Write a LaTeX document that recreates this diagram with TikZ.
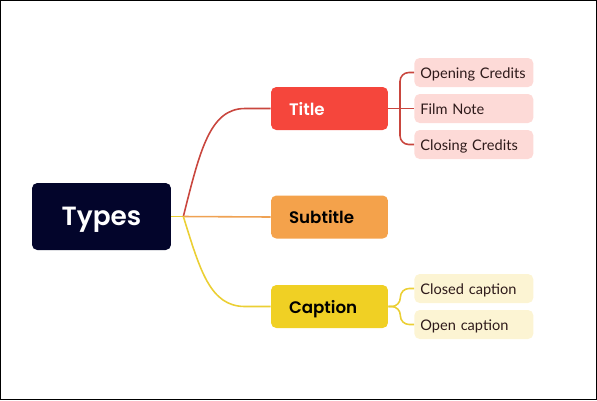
\documentclass[tikz,border=0pt]{standalone}
\usepackage{fontspec}
\setmainfont{Lato}
\newfontfamily\headfont{Poppins}[BoldFont={Poppins SemiBold}]
\usepackage{tikz}
\usetikzlibrary{calc}
\definecolor{navy}{HTML}{03052B}
\definecolor{titlered}{HTML}{F5463C}
\definecolor{suborange}{HTML}{F4A24B}
\definecolor{capyellow}{HTML}{F0D024}
\definecolor{leafpink}{HTML}{FDDAD7}
\definecolor{leafyellow}{HTML}{FCF4D3}
\definecolor{linkred}{HTML}{C9463E}
\definecolor{linkorange}{HTML}{EFA253}
\definecolor{linkyellow}{HTML}{EBCF34}
\definecolor{leaftext}{HTML}{2E1A1A}

\begin{document}
\begin{tikzpicture}[x=0.02cm,y=-0.02cm,
    root/.style={fill=navy,text=white,rounded corners=3pt,minimum width=2.78cm,minimum height=1.34cm,text depth=0pt,font=\headfont\fontsize{15}{18}\selectfont\bfseries},
    branch/.style={rounded corners=3pt,text width=1.62cm,inner xsep=0.36cm,minimum height=0.86cm,text depth=0pt,align=left,font=\headfont\fontsize{9.5}{11}\selectfont\bfseries},
    leaf/.style={rounded corners=3pt,text width=2.14cm,inner xsep=0.12cm,minimum height=0.58cm,text height=0.72em,text depth=0pt,align=left,text=leaftext,font=\fontsize{8.3}{10}\selectfont},
    link/.style={line width=0.9pt}]
            \useasboundingbox (0,0) rectangle (597,400);
            \draw[black,line width=0.8pt] (0.7,0.7) rectangle (596.3,399.3);
            \node[root] (types) at (101.5,216.5) {Types};
            \node[branch,fill=titlered,text=white] (title) at (329.5,108.5) {Title};
            \node[branch,fill=suborange,text=black] (subtitle) at (329.5,217) {Subtitle};
            \node[branch,fill=capyellow,text=black] (caption) at (329.5,306.5) {Caption};
            \node[leaf,fill=leafpink,anchor=west] (opening) at (414,72.5) {Opening Credits};
            \node[leaf,fill=leafpink,anchor=west] (filmnote) at (414,108.5) {Film Note};
            \node[leaf,fill=leafpink,anchor=west] (closing) at (414,144.5) {Closing Credits};
            \node[leaf,fill=leafyellow,anchor=west] (closedcap) at (414,288.5) {Closed caption};
            \node[leaf,fill=leafyellow,anchor=west] (opencap) at (414,324.5) {Open caption};
            \coordinate (hub) at ($(types.east)+(12,0)$);
            \draw[link,linkyellow] (types.east) -- (hub);
            \draw[link,linkred] (hub) .. controls (200,150) and (210,108.5) .. (245,108.5) -- (title.west);
            \draw[link,linkorange] (hub) -- (subtitle.west);
            \draw[link,linkyellow] (hub) .. controls (200,270) and (210,306.5) .. (245,306.5) -- (caption.west);
            \draw[link,linkred,rounded corners=5pt] (title.east) -- (filmnote.west);
            \draw[link,linkred,rounded corners=5pt] (opening.west) -- ++(-14,0) |- (closing.west);
            \draw[link,linkyellow,rounded corners=5pt] (caption.east) -- ++(12,0) |- (closedcap.west);
            \draw[link,linkyellow,rounded corners=5pt] (caption.east) -- ++(12,0) |- (opencap.west);
          \end{tikzpicture}
\end{document}
